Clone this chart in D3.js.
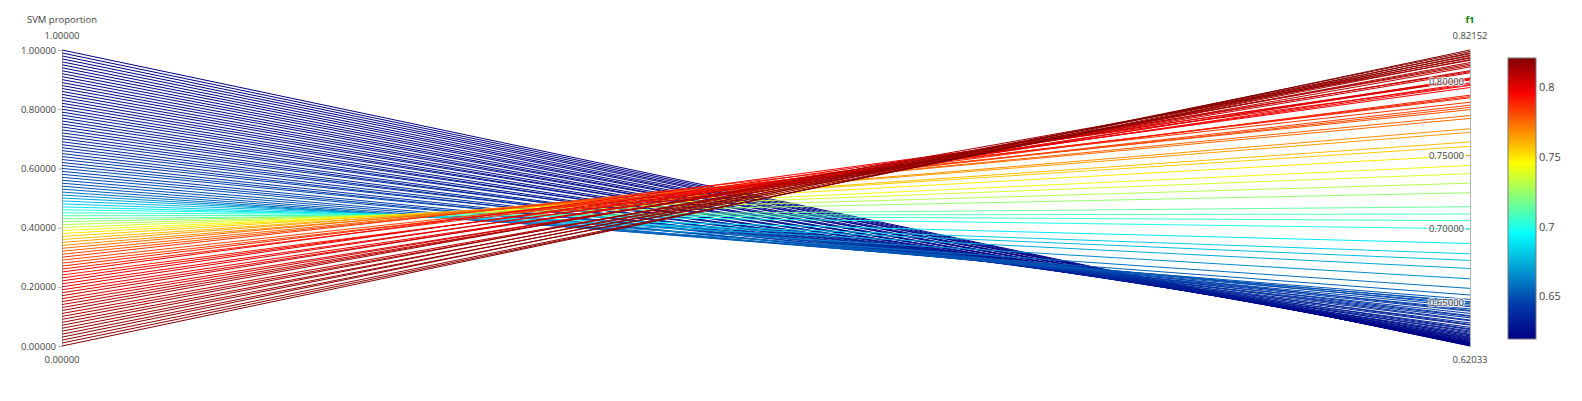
<!DOCTYPE html>
<html lang="en">
<head>
    <meta charset="UTF-8">
    <title>Parallel coordinates</title>
    <script src="https://d3js.org/d3.v7.min.js"></script>
    <style>
        html, body {
            margin: 0;
            background: #fff;
        }
        text {
            font-family: "Open Sans", verdana, arial, sans-serif;
        }
        .tick text {
            text-shadow: 1px 1px 1px #fff, -1px -1px 1px #fff, 1px -1px 1px #fff, -1px 1px 1px #fff;
        }
    </style>
</head>
<body>
<div id="vis"></div>
<script>
// data
var dimensions = ['SVM proportion', 'f1'];

var proportion = [
    0.00, 0.01, 0.02, 0.03, 0.04, 0.05, 0.06, 0.07, 0.08, 0.09,
    0.10, 0.11, 0.12, 0.13, 0.14, 0.15, 0.16, 0.17, 0.18, 0.19,
    0.20, 0.21, 0.22, 0.23, 0.24, 0.25, 0.26, 0.27, 0.28, 0.29,
    0.30, 0.31, 0.32, 0.33, 0.34, 0.35, 0.36, 0.37, 0.38, 0.39,
    0.40, 0.41, 0.42, 0.43, 0.44, 0.45, 0.46, 0.47, 0.48, 0.49,
    0.50, 0.51, 0.52, 0.53, 0.54, 0.55, 0.56, 0.57, 0.58, 0.59,
    0.60, 0.61, 0.62, 0.63, 0.64, 0.65, 0.66, 0.67, 0.68, 0.69,
    0.70, 0.71, 0.72, 0.73, 0.74, 0.75, 0.76, 0.77, 0.78, 0.79,
    0.80, 0.81, 0.82, 0.83, 0.84, 0.85, 0.86, 0.87, 0.88, 0.89,
    0.90, 0.91, 0.92, 0.93, 0.94, 0.95, 0.96, 0.97, 0.98, 0.99,
    1.00
];

var f1 = [
    0.8215, 0.8195, 0.8180, 0.8205, 0.8165, 0.8190, 0.8150, 0.8175, 0.8130, 0.8160,
    0.8120, 0.8100, 0.8145, 0.8110, 0.8075, 0.8060, 0.8025, 0.8068, 0.8015, 0.7990,
    0.8020, 0.7975, 0.8011, 0.7960, 0.7908, 0.7980, 0.7898, 0.7890, 0.7840, 0.7825,
    0.7860, 0.7810, 0.7770, 0.7750, 0.7680, 0.7655, 0.7590, 0.7560, 0.7500, 0.7430,
    0.7375, 0.7310, 0.7245, 0.7150, 0.7100, 0.7055, 0.7000, 0.6900, 0.6830, 0.6785,
    0.6730, 0.6660, 0.6595, 0.6550, 0.6520, 0.6505, 0.6490, 0.6500, 0.6470, 0.6455,
    0.6480, 0.6440, 0.6425, 0.6445, 0.6405, 0.6395, 0.6410, 0.6375, 0.6360, 0.6380,
    0.6345, 0.6330, 0.6350, 0.6315, 0.6305, 0.6320, 0.6290, 0.6282, 0.6298, 0.6272,
    0.6265, 0.6278, 0.6255, 0.6250, 0.6260, 0.6242, 0.6236, 0.6246, 0.6230, 0.6226,
    0.6234, 0.6222, 0.6219, 0.6225, 0.6215, 0.6212, 0.6216, 0.6209, 0.6207, 0.6205,
    0.62033
];

var propRange = [0, 1];
var f1Range = [0.62033, 0.82152];
var propTicks = [0, 0.2, 0.4, 0.6, 0.8, 1];
var f1Ticks = [0.65, 0.7, 0.75, 0.8];
var colorbarTicks = [0.65, 0.7, 0.75, 0.8];

// plotly "Jet"
var jetStops = [0, 0.125, 0.375, 0.625, 0.875, 1];
var jetColors = ['rgb(0,0,131)', 'rgb(0,60,170)', 'rgb(5,255,255)', 'rgb(255,255,0)', 'rgb(250,0,0)', 'rgb(128,0,0)'];

var W = 1582, H = 401;
var top_y = 50, bottom_y = 346;

var svg = d3.select('#vis')
    .append('svg')
    .attr('width', W)
    .attr('height', H);

var x_scale = d3.scalePoint()
    .domain(dimensions)
    .range([62, 1470]);

var y_left = d3.scaleLinear().domain(propRange).range([bottom_y, top_y]);
var y_right = d3.scaleLinear().domain(f1Range).range([bottom_y, top_y]);

var colour_scale = d3.scaleLinear()
    .domain(jetStops.map(function(s) { return f1Range[0] + s * (f1Range[1] - f1Range[0]); }))
    .range(jetColors)
    .interpolate(d3.interpolateRgb);

var rows = proportion.map(function(p, i) {
    return { p: p, f: f1[i] };
});
// higher f1 drawn last
rows.sort(function(a, b) { return a.f - b.f; });

var xl = x_scale('SVM proportion'), xr = x_scale('f1');

svg.append('g')
    .selectAll('line')
    .data(rows)
    .enter()
    .append('line')
    .attr('x1', xl)
    .attr('x2', xr)
    .attr('y1', function(d) { return y_left(d.p); })
    .attr('y2', function(d) { return y_right(d.f); })
    .attr('stroke', function(d) { return colour_scale(d.f); })
    .attr('stroke-width', 1);

function drawAxis(xpos, scale, ticks, title, range, titleStyle) {
    var g = svg.append('g')
        .attr('class', 'axis')
        .attr('transform', 'translate(' + xpos + ',0)');

    var ax = d3.axisLeft(scale)
        .tickValues(ticks)
        .tickFormat(d3.format('.5f'))
        .tickSize(4)
        .tickSizeOuter(0);
    g.call(ax);
    g.select('.domain').attr('stroke', '#444').attr('stroke-opacity', 0.4);
    g.selectAll('.tick line').attr('stroke', '#444').attr('stroke-opacity', 0.4);
    g.selectAll('.tick text')
        .attr('fill', '#444')
        .attr('font-size', 9.5)
        .attr('x', -6);
    g.attr('font-family', null);

    g.append('text')
        .attr('x', 0)
        .attr('y', 36)
        .attr('text-anchor', 'middle')
        .attr('dominant-baseline', 'middle')
        .attr('font-size', 9.5)
        .attr('fill', '#444')
        .text(d3.format('.5f')(range[1]));
    g.append('text')
        .attr('x', 0)
        .attr('y', 360)
        .attr('text-anchor', 'middle')
        .attr('dominant-baseline', 'middle')
        .attr('font-size', 9.5)
        .attr('fill', '#444')
        .text(d3.format('.5f')(range[0]));

    var t = g.append('text')
        .attr('x', 0)
        .attr('y', 20)
        .attr('text-anchor', 'middle')
        .attr('dominant-baseline', 'middle')
        .attr('font-size', 9.5)
        .attr('fill', titleStyle.color)
        .text(title);
    if (titleStyle.bold) t.attr('font-weight', 'bold');
}

drawAxis(xl, y_left, propTicks, 'SVM proportion', propRange, { color: '#444', bold: false });
drawAxis(xr, y_right, f1Ticks, 'f1', f1Range, { color: 'green', bold: true });

// colourbar
var cb_x = 1508, cb_w = 28, cb_top = 58, cb_bottom = 339;
var cb_scale = d3.scaleLinear().domain(f1Range).range([cb_bottom, cb_top]);

var grad = svg.append('defs')
    .append('linearGradient')
    .attr('id', 'jet')
    .attr('x1', 0).attr('y1', 1)
    .attr('x2', 0).attr('y2', 0);
grad.selectAll('stop')
    .data(jetStops)
    .enter()
    .append('stop')
    .attr('offset', function(d) { return d; })
    .attr('stop-color', function(d, i) { return jetColors[i]; });

svg.append('rect')
    .attr('x', cb_x)
    .attr('y', cb_top)
    .attr('width', cb_w)
    .attr('height', cb_bottom - cb_top)
    .attr('fill', 'url(#jet)')
    .attr('stroke', '#777')
    .attr('stroke-width', 1);

svg.append('g')
    .selectAll('text')
    .data(colorbarTicks)
    .enter()
    .append('text')
    .attr('x', cb_x + cb_w + 3)
    .attr('y', function(d) { return cb_scale(d); })
    .attr('dominant-baseline', 'middle')
    .attr('font-size', 11)
    .attr('fill', '#444')
    .text(function(d) { return d3.format('')(d); });
</script>
</body>
</html>
